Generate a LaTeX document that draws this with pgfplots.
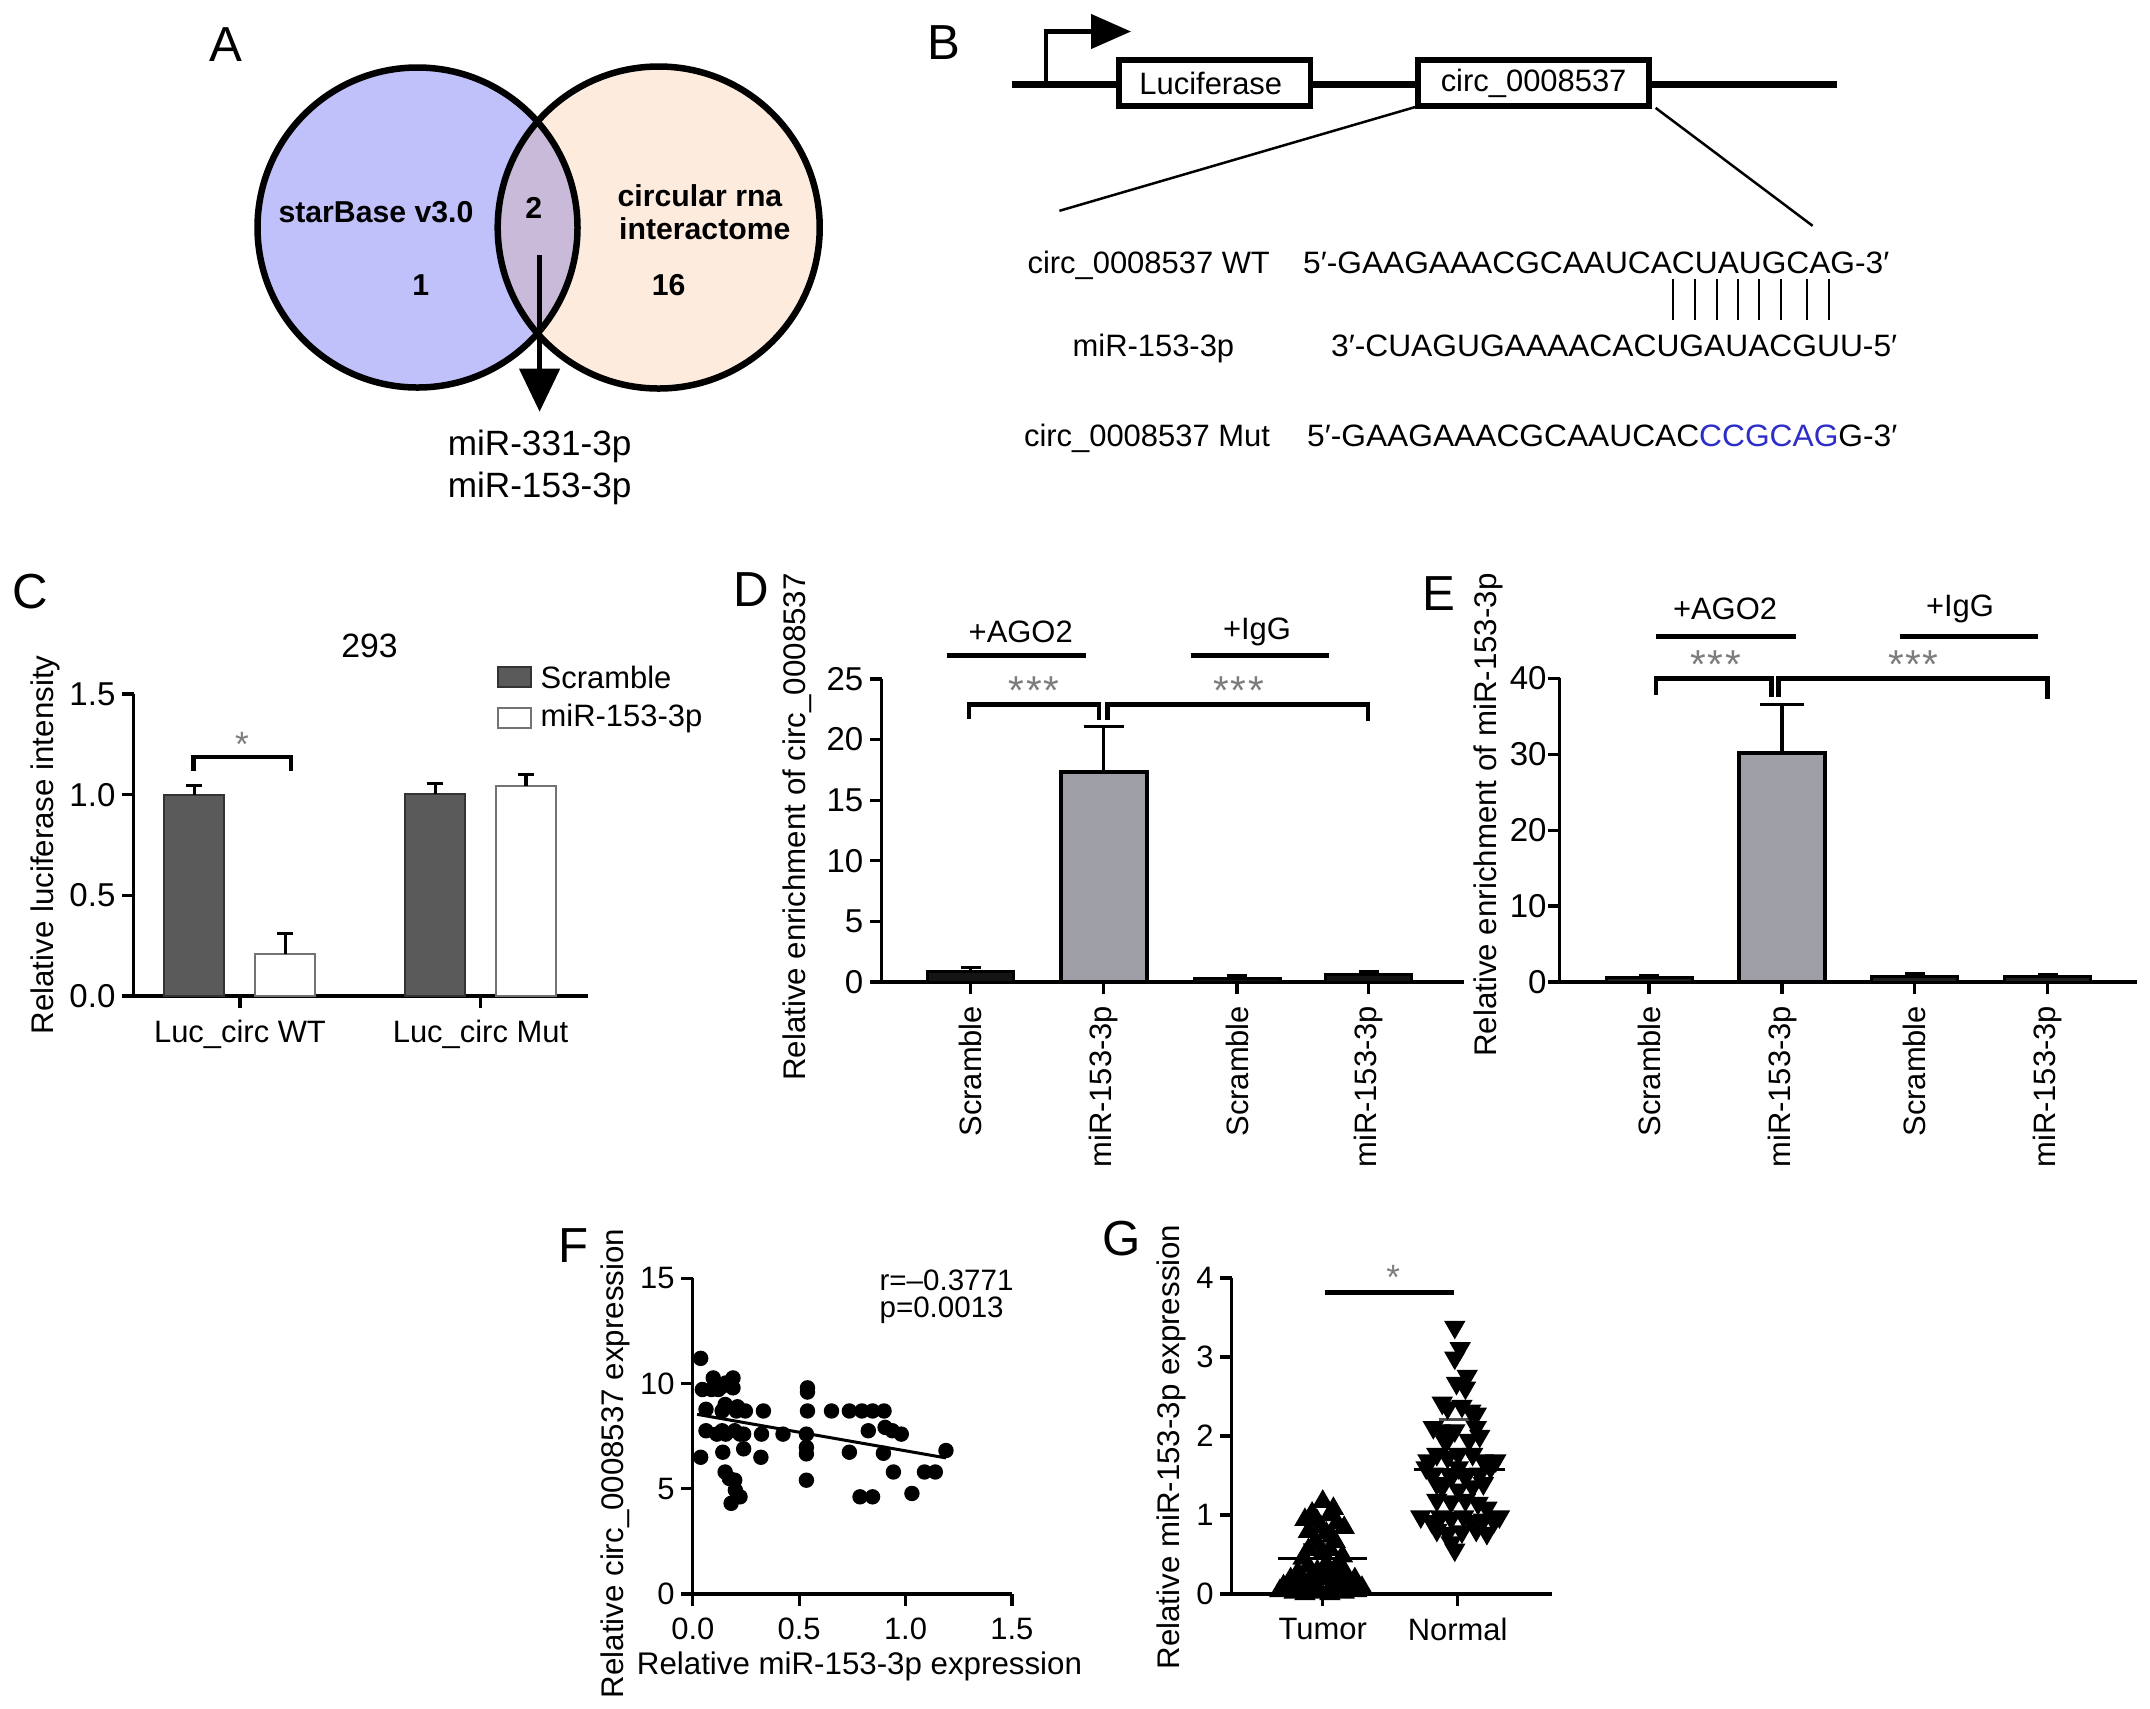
\documentclass[border=0pt]{standalone}
\usepackage{graphicx}
\usepackage{pgfplots}
\pgfplotsset{compat=1.18}
\usepackage{fontspec}
\setmainfont{Liberation Sans}
\setsansfont{Liberation Sans}
\usetikzlibrary{arrows.meta}
\definecolor{venblue}{RGB}{192,192,250}
\definecolor{venpeach}{RGB}{253,236,222}
\definecolor{venmix}{RGB}{200,186,216}
\definecolor{bardark}{RGB}{90,90,90}
\definecolor{barlight}{RGB}{158,158,166}
\definecolor{seqblue}{RGB}{45,45,200}
\definecolor{stargray}{RGB}{125,125,125}
\newcommand{\fs}[1]{\fontsize{#1}{#1}\selectfont}
\pgfplotsset{
  gp/.style={
    scale only axis, anchor=south west, clip=false,
    axis lines=left, axis line style={-, line width=0.32mm, black},
    tick align=outside, major tick length=1.15mm,
    tick style={line width=0.32mm, black},
    tick label style={font=\fs{9.4}},
    y tick label style={inner sep=0.6mm},
    x tick label style={font=\fs{8.8}},
    /pgf/number format/assume math mode=true,
    enlargelimits=false,
  },
  gpbar/.style={ybar, bar shift=0pt,
    /pgfplots/error bars/y dir=plus, /pgfplots/error bars/y explicit,
    /pgfplots/error bars/error bar style={line width=0.32mm, black},
    /pgfplots/error bars/error mark options={line width=0.32mm, black, mark size=#1, rotate=90}},
}
\begin{document}
\begin{tikzpicture}
\path[use as bounding box] (0,0) rectangle (215mm,-170.8mm);

% ---------------- Panel C ----------------
\begin{axis}[gp, at={(13.36mm,-99.6mm)}, width=45.4mm, height=30.2mm,
  xmin=133.6, xmax=587.6, ymin=0, ymax=1.5,
  xtick={240,480.5}, xticklabels={Luc\_circ WT, Luc\_circ Mut},
  ytick={0,0.5,1,1.5}, yticklabels={0.0,0.5,1.0,1.5}]
\addplot[gpbar=0.8mm, bar width=60, fill=bardark, draw=black!80, line width=0.2mm] coordinates {(194.3,1.0) +- (0,0.047)};
\addplot[gpbar=0.8mm, bar width=60, fill=white, draw=black!55, line width=0.2mm] coordinates {(285.1,0.208) +- (0,0.101)};
\addplot[gpbar=0.8mm, bar width=60, fill=bardark, draw=black!80, line width=0.2mm] coordinates {(435.4,1.003) +- (0,0.053)};
\addplot[gpbar=0.8mm, bar width=60, fill=white, draw=black!55, line width=0.2mm] coordinates {(526,1.043) +- (0,0.057)};
\draw[line width=0.42mm] (axis cs:193.5,1.12) -- (axis cs:193.5,1.188) -- (axis cs:291.2,1.188) -- (axis cs:291.2,1.12);
\end{axis}

% ---------------- Panel D ----------------
\begin{axis}[gp, at={(88.15mm,-98.2mm)}, width=58.25mm, height=30.3mm,
  xmin=881.5, xmax=1464, ymin=0, ymax=25,
  xtick={970.5,1103.5,1237,1368.5},
  xticklabels={Scramble,miR-153-3p,Scramble,miR-153-3p},
  x tick label style={rotate=90, anchor=east},
  ytick={0,5,10,15,20,25}]
\addplot[gpbar=1.0mm, bar width=86, fill=black!92, draw=black, line width=0.3mm] coordinates {(970.5,0.9) +- (0,0.33)};
\addplot[gpbar=2.0mm, bar width=86, fill=barlight, draw=black, line width=0.4mm] coordinates {(1103.5,17.3) +- (0,3.75)};
\addplot[gpbar=1.0mm, bar width=86, fill=black!92, draw=black, line width=0.3mm] coordinates {(1237,0.3) +- (0,0.2)};
\addplot[gpbar=1.0mm, bar width=86, fill=black!92, draw=black, line width=0.3mm] coordinates {(1368.5,0.58) +- (0,0.27)};
\draw[line width=0.45mm] (axis cs:968.8,21.7) -- (axis cs:968.8,22.9) -- (axis cs:1099,22.9) -- (axis cs:1099,21.6);
\draw[line width=0.45mm] (axis cs:1107.5,21.6) -- (axis cs:1107.5,22.9) -- (axis cs:1368,22.9) -- (axis cs:1368,21.5);
\draw[line width=0.5mm] (axis cs:946.7,26.9) -- (axis cs:1085.9,26.9);
\draw[line width=0.5mm] (axis cs:1190.6,26.9) -- (axis cs:1329.3,26.9);
\node[font=\fs{8.8}] at (axis cs:1020.7,28.9) {+AGO2};
\node[font=\fs{8.8}] at (axis cs:1257,28.9) {+IgG};
\node[font=\fs{11.5}, text=stargray, yshift=-0.9mm] at (axis cs:1034,24.8) {*\hspace{0.15mm}*\hspace{0.15mm}*};
\node[font=\fs{11.5}, text=stargray, yshift=-0.9mm] at (axis cs:1238.8,24.8) {*\hspace{0.15mm}*\hspace{0.15mm}*};
\end{axis}

% ---------------- Panel E ----------------
\begin{axis}[gp, at={(155.97mm,-98.2mm)}, width=57.73mm, height=30.37mm,
  xmin=1559.7, xmax=2137, ymin=0, ymax=40,
  xtick={1649,1782,1914.5,2047.5},
  xticklabels={Scramble,miR-153-3p,Scramble,miR-153-3p},
  x tick label style={rotate=90, anchor=east},
  y tick label style={inner sep=0.1mm},
  ytick={0,10,20,30,40}]
\addplot[gpbar=1.0mm, bar width=86, fill=black!88, draw=black, line width=0.3mm] coordinates {(1649,0.6) +- (0,0.3)};
\addplot[gpbar=2.2mm, bar width=86, fill=barlight, draw=black, line width=0.4mm] coordinates {(1782,30.1) +- (0,6.5)};
\addplot[gpbar=1.0mm, bar width=86, fill=black!88, draw=black, line width=0.3mm] coordinates {(1914.5,0.7) +- (0,0.35)};
\addplot[gpbar=1.0mm, bar width=86, fill=black!88, draw=black, line width=0.3mm] coordinates {(2047.5,0.7) +- (0,0.3)};
\draw[line width=0.45mm] (axis cs:1656,37.8) -- (axis cs:1656,40) -- (axis cs:1771.5,40) -- (axis cs:1771.5,37.5);
\draw[line width=0.45mm] (axis cs:1778.5,37.5) -- (axis cs:1778.5,40) -- (axis cs:2047.6,40) -- (axis cs:2047.6,37.3);
\draw[line width=0.5mm] (axis cs:1656,45.5) -- (axis cs:1796,45.5);
\draw[line width=0.5mm] (axis cs:1899.6,45.5) -- (axis cs:2038.3,45.5);
\node[font=\fs{8.8}] at (axis cs:1725,49.1) {+AGO2};
\node[font=\fs{8.8}] at (axis cs:1960,49.1) {+IgG};
\node[font=\fs{11.5}, text=stargray, yshift=-0.9mm] at (axis cs:1715.7,43.0) {*\hspace{0.15mm}*\hspace{0.15mm}*};
\node[font=\fs{11.5}, text=stargray, yshift=-0.9mm] at (axis cs:1913.5,43.0) {*\hspace{0.15mm}*\hspace{0.15mm}*};
\end{axis}

% ---------------- Panel F ----------------
\begin{axis}[gp, at={(69.28mm,-159.4mm)}, width=31.91mm, height=31.56mm,
  xmin=0, xmax=1.5, ymin=0, ymax=15,
  xtick={0,0.5,1,1.5}, xticklabels={0.0,0.5,1.0,1.5},
  ytick={0,5,10,15}, tick label style={font=\fs{8.8}}]
\addplot[only marks, mark=*, mark size=0.7mm, mark options={fill=black, draw=black}] coordinates {
(0.037,11.2) (0.045,9.72) (0.088,9.72) (0.096,10.27) (0.138,9.87) (0.155,10.03)
(0.189,10.27) (0.189,9.8) (0.062,8.78) (0.138,8.7) (0.152,9.01) (0.205,8.7)
(0.247,8.7) (0.332,8.7) (0.062,7.76) (0.113,7.6) (0.138,7.76) (0.155,7.6)
(0.197,7.76) (0.222,7.6) (0.239,7.6) (0.323,7.6) (0.424,7.6) (0.037,6.5)
(0.141,6.74) (0.239,6.9) (0.32,6.5) (0.152,5.8) (0.172,5.49) (0.197,5.41)
(0.2,4.94) (0.222,4.62) (0.18,4.31) (0.539,9.8) (0.539,9.6) (0.539,8.7) (0.534,7.6)
(0.534,6.97) (0.534,6.66) (0.534,5.41) (0.652,8.7) (0.736,8.7) (0.795,8.7)
(0.845,8.7) (0.899,8.7) (0.736,6.74) (0.825,7.76) (0.904,7.92) (0.938,7.76)
(0.98,7.6) (0.896,6.69) (0.943,5.8) (0.786,4.62) (0.845,4.62) (1.03,4.78)
(1.089,5.8) (1.14,5.8) (1.19,6.82) (0.12,9.72) (0.21,8.9)
};
\addplot[no marks, line width=0.3mm, black] coordinates {(0.02,8.54) (1.19,6.47)};
\node[font=\fs{8.4}, anchor=base west, inner sep=0pt] at (axis cs:0.875,14.42) {r=\textendash0.3771};
\node[font=\fs{8.4}, anchor=base west, inner sep=0pt] at (axis cs:0.875,13.16) {p=0.0013};
\end{axis}

% ---------------- Panel G ----------------
\begin{axis}[gp, at={(123.17mm,-159.4mm)}, width=32.03mm, height=31.6mm,
  xmin=0.325, xmax=2.7, ymin=0, ymax=4,
  xtick={1,2}, xticklabels={Tumor,Normal},
  ytick={0,1,2,3,4}, tick label style={font=\fs{8.8}}]
\addplot[only marks, mark=triangle*, mark size=1.1mm, mark options={fill=black, draw=black}] coordinates {
(1.000,1.17) (0.921,1.02) (1.053,1.00) (0.868,0.94) (0.960,0.92) (1.106,0.90)
(1.159,0.84) (0.894,0.79) (1.026,0.77) (1.066,0.73) (0.947,0.67) (0.894,0.56)
(1.000,0.52) (1.053,0.56) (1.026,0.38) (0.894,0.35) (0.960,0.29) (1.106,0.35)
(0.709,0.10) (0.762,0.19) (0.801,0.08) (0.841,0.21) (0.894,0.10) (0.934,0.17)
(0.974,0.06) (1.026,0.19) (1.066,0.10) (1.106,0.23) (1.159,0.29) (1.185,0.15)
(1.238,0.19) (1.291,0.08) (0.682,0.04) (0.788,0.02) (0.868,0.00) (0.947,0.02)
(1.053,0.00) (1.159,0.02) (1.251,0.04) (0.815,0.27) (1.000,0.25) (0.749,0.125)
(1.119,0.08) (1.212,0.08) (0.921,0.23) (1.053,0.27) (0.828,0.146)
(0.934,0.62) (1.093,0.66) (0.854,0.45) (1.146,0.48) (0.987,0.85) (1.079,1.08)
};
\addplot[only marks, mark=triangle*, mark size=1.1mm, mark options={fill=black, draw=black, rotate=180}] coordinates {
(1.979,3.38) (2.019,3.11) (1.979,2.99) (2.071,2.76) (1.992,2.67) (2.058,2.61)
(1.886,2.42) (1.926,2.36) (2.032,2.38) (2.098,2.32) (2.138,2.28) (1.820,2.11)
(1.873,2.07) (1.926,2.03) (1.979,2.07) (2.138,2.11) (1.913,1.92) (1.846,1.77)
(1.780,1.69) (1.926,1.73) (2.005,1.77) (2.111,1.77) (2.191,1.69) (2.283,1.69)
(1.820,1.52) (1.952,1.48) (2.058,1.48) (2.164,1.52) (1.886,1.36) (2.005,1.32)
(2.111,1.36) (2.191,1.40) (1.846,1.19) (1.952,1.17) (2.058,1.19) (2.151,1.15)
(2.217,1.09) (1.727,0.98) (1.807,0.92) (1.873,0.98) (1.952,0.96) (2.045,0.98)
(2.111,0.92) (2.191,0.94) (2.270,0.92) (2.310,0.98) (1.846,0.81) (1.926,0.77)
(2.032,0.79) (2.138,0.81) (2.217,0.77) (1.952,0.65) (1.979,0.56)
(1.767,1.60) (2.244,1.60) (1.846,1.40) (2.085,1.95) (2.164,2.00) (2.005,1.60)
};
\addplot[no marks, line width=0.3mm, black] coordinates {(0.668,0.447) (1.331,0.447)};
\addplot[no marks, line width=0.3mm, black] coordinates {(1.675,1.574) (2.349,1.574)};
\addplot[no marks, line width=0.25mm, black!70] coordinates {(1.86,2.21) (2.124,2.21)};
\addplot[no marks, line width=0.25mm, black!70] coordinates {(0.854,0.63) (1.146,0.63)};
\draw[line width=0.5mm] (axis cs:1.013,3.82) -- (axis cs:1.976,3.82);
\node[font=\fs{10}, text=stargray, yshift=-0.8mm] at (axis cs:1.523,4.11) {*};
\end{axis}

% ---------------- drawings and labels (pixel units) ----------------
\begin{scope}[x=0.1mm, y=-0.1mm]
% Venn
\fill[venblue] (417.5,227.5) circle[radius=160];
\fill[venpeach] (658.7,227.5) circle[radius=161];
\begin{scope}
\clip (417.5,227.5) circle[radius=160];
\fill[venmix] (658.7,227.5) circle[radius=161];
\end{scope}
\draw[line width=0.65mm] (417.5,227.5) circle[radius=160];
\draw[line width=0.65mm] (658.7,227.5) circle[radius=161];
\node[font=\bfseries\fs{8.6}] at (376,212.5) {starBase v3.0};
\node[font=\bfseries\fs{8.6}] at (533.8,207.5) {2};
\node[font=\bfseries\fs{8.6}] at (420.7,285.5) {1};
\node[font=\bfseries\fs{8.6}] at (700,196) {circular rna};
\node[font=\bfseries\fs{8.6}] at (704.8,229) {interactome};
\node[font=\bfseries\fs{8.6}] at (668.7,285) {16};
\draw[line width=0.45mm, -{Triangle[length=4.3mm, width=4mm]}] (539.6,255) -- (539.6,411.7);
\node[font=\fs{10}] at (539.6,446.5) {miR-331-3p};
\node[font=\fs{10}] at (539.6,488) {miR-153-3p};

% B construct
\draw[line width=0.7mm] (1011.6,84.7) -- (1836.5,84.7);
\draw[line width=0.55mm, fill=white] (1119,59.8) rectangle (1310.5,106.2);
\draw[line width=0.55mm, fill=white] (1418,59.8) rectangle (1649,106.2);
\node[font=\fs{8.8}] at (1210.8,83) {Luciferase};
\node[font=\fs{8.8}] at (1533.6,83) {circ\_0008537};
\draw[line width=0.45mm, -{Triangle[length=4mm, width=3.4mm]}] (1045.9,84.7) -- (1045.9,31.5) -- (1131,31.5);
\draw[line width=0.25mm] (1418,106.2) -- (1059.4,210.8);
\draw[line width=0.25mm] (1655.6,107.9) -- (1812.6,225.8);
\node[font=\fs{8.8}, anchor=base east, inner sep=0pt] at (1270.6,273.3) {circ\_0008537 WT};
\node[font=\fs{8.8}, anchor=base west, inner sep=0pt] at (1302.5,273.3) {\resizebox{58.6mm}{\height}{5′-GAAGAAACGCAAUCACUAUGCAG-3′}};
\foreach \xx in {1673.1,1695.4,1716.9,1738.4,1759.2,1780.7,1807,1828.5}
  \draw[line width=0.2mm] (\xx,279) -- (\xx,320.4);
\node[font=\fs{8.8}, anchor=base, inner sep=0pt] at (1153.4,356.3) {miR-153-3p};
\node[font=\fs{8.8}, anchor=base west, inner sep=0pt] at (1330.4,356.3) {\resizebox{56.6mm}{\height}{3′-CUAGUGAAAACACUGAUACGUU-5′}};
\node[font=\fs{8.8}, anchor=base east, inner sep=0pt] at (1270.6,446) {circ\_0008537 Mut};
\node[font=\fs{8.8}, anchor=base west, inner sep=0pt] at (1306.5,446) {\resizebox{59mm}{\height}{5′-GAAGAAACGCAAUCAC\textcolor{seqblue}{CCGCAG}G-3′}};

% C extras
\node[font=\fs{9.6}] at (369.6,646) {293};
\draw[line width=0.2mm, fill=bardark, draw=black!80] (498,667) rectangle (531,687);
\draw[line width=0.2mm, fill=white, draw=black!55] (498,708) rectangle (531,728);
\node[font=\fs{8.8}, anchor=west, inner sep=0pt] at (540,677) {Scramble};
\node[font=\fs{8.8}, anchor=west, inner sep=0pt] at (540,718) {miR-153-3p};
\node[font=\fs{10}, text=stargray, yshift=-0.8mm] at (242,736) {*};

% axis labels
\node[font=\fs{8.9}, rotate=90] at (45,845) {Relative luciferase intensity};
\node[font=\fs{8.9}, rotate=90] at (797,827) {Relative enrichment of circ\_0008537};
\node[font=\fs{8.9}, rotate=90] at (1488,815) {Relative enrichment of miR-153-3p};
\node[font=\fs{8.9}, rotate=90] at (615,1463.5) {Relative circ\_0008537 expression};
\node[font=\fs{8.9}] at (859.5,1666.6) {Relative miR-153-3p expression};
\node[font=\fs{8.9}, rotate=90] at (1171,1447) {Relative miR-153-3p expression};

% panel letters
\node[font=\fs{14}] at (225.6,45) {A};
\node[font=\fs{14}] at (944,43) {B};
\node[font=\fs{14}] at (30.7,592) {C};
\node[font=\fs{14}] at (751,590) {D};
\node[font=\fs{14}] at (1438.6,594) {E};
\node[font=\fs{14}] at (574,1246) {F};
\node[font=\fs{14}] at (1122,1239) {G};
\end{scope}
\end{tikzpicture}
\end{document}
